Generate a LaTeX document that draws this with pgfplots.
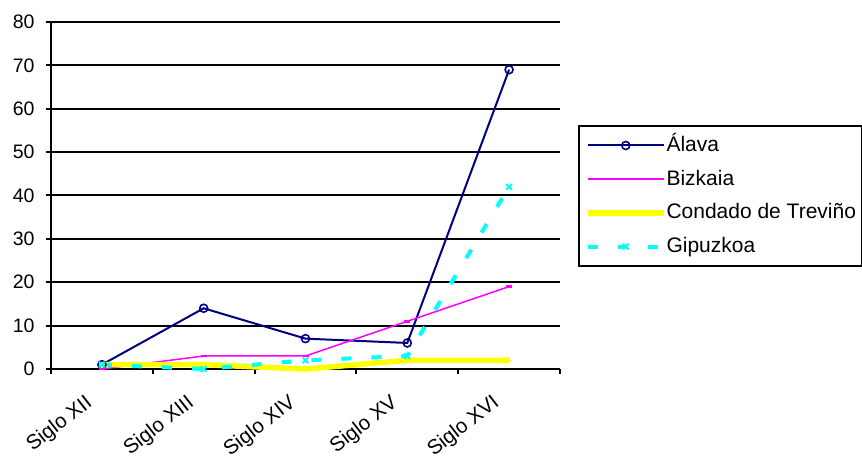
\documentclass[border=0pt]{standalone}
\usepackage{pgfplots}
\pgfplotsset{compat=1.18}
\usepackage{fontspec}
\setmainfont{Liberation Sans}
\definecolor{alava}{HTML}{000080}
\definecolor{bizk}{HTML}{FF00FF}
\definecolor{trev}{HTML}{FFFF00}
\definecolor{gipu}{HTML}{00FFFF}
\begin{document}
\begin{tikzpicture}
\begin{axis}[
  at={(51pt,88pt)}, anchor=south west, scale only axis,
  width=509pt, height=347pt,
  xmin=-0.5, xmax=4.5, ymin=0, ymax=80,
  clip=false,
  axis x line=bottom, axis y line=left,
  axis line style={-, line width=2pt, black},
  ytick={0,10,...,80},
  ymajorgrids, grid style={black, line width=2pt},
  xtick={-0.5,0.5,1.5,2.5,3.5,4.5},
  xticklabels={},
  extra x ticks={0,1,2,3,4},
  extra x tick labels={Siglo XII,Siglo XIII,Siglo XIV,Siglo XV,Siglo XVI},
  extra x tick style={tick style={draw=none}, grid=none,
     xticklabel style={xshift=-18pt, yshift=-19pt, rotate=38, anchor=north east, inner sep=0pt,
       font=\fontsize{20.5}{24}\selectfont}},
  tick align=outside, major tick length=5pt,
  tick style={black, line width=2pt},
  tick label style={font=\fontsize{19.5}{23}\selectfont},
  /pgf/number format/assume math mode=true,
  yticklabel style={xshift=-8pt},
  legend style={at={(axis description cs:1.0354,0.7032)}, anchor=north west,
     draw=black, line width=2pt, font=\fontsize{21}{24}\selectfont,
     inner xsep=6pt, inner ysep=9.5pt, row sep=13.7pt,
     nodes={inner xsep=0pt, inner ysep=0pt, text height=16pt, text depth=4pt}},
  legend cell align=left,
  legend image code/.code={\draw[mark repeat=2,mark phase=2,#1] plot coordinates {(0pt,0pt) (38pt,0pt) (76pt,0pt)};},
]
\addplot[color=alava, line width=2pt, mark=o, mark size=4pt, mark options={line width=1.6pt, solid}]
  coordinates {(0,1) (1,14) (2,7) (3,6) (4,69)};
\addlegendentry{Álava}
\addplot[color=bizk, line width=1.5pt, mark=-, mark size=3pt, mark options={line width=2.5pt, solid}]
  coordinates {(0,0) (1,3) (2,3) (3,11) (4,19)};
\addlegendentry{Bizkaia}
\addplot[color=trev, line width=5.5pt, line join=round, mark=+, mark size=3pt, mark options={line width=1.5pt, solid}]
  coordinates {(0,1) (1,1) (2,0) (3,2) (4,2)};
\addlegendentry{Condado de Treviño}
\addplot[color=gipu, line width=4pt, dash pattern=on 10pt off 20pt, mark=x, mark size=4pt, mark options={line width=2pt, solid}]
  coordinates {(0,1) (1,0) (2,2) (3,3) (4,42)};
\addlegendentry{Gipuzkoa}
\end{axis}
\pgfresetboundingbox
\path (0,0) rectangle (862pt,457pt);
\end{tikzpicture}
\end{document}
